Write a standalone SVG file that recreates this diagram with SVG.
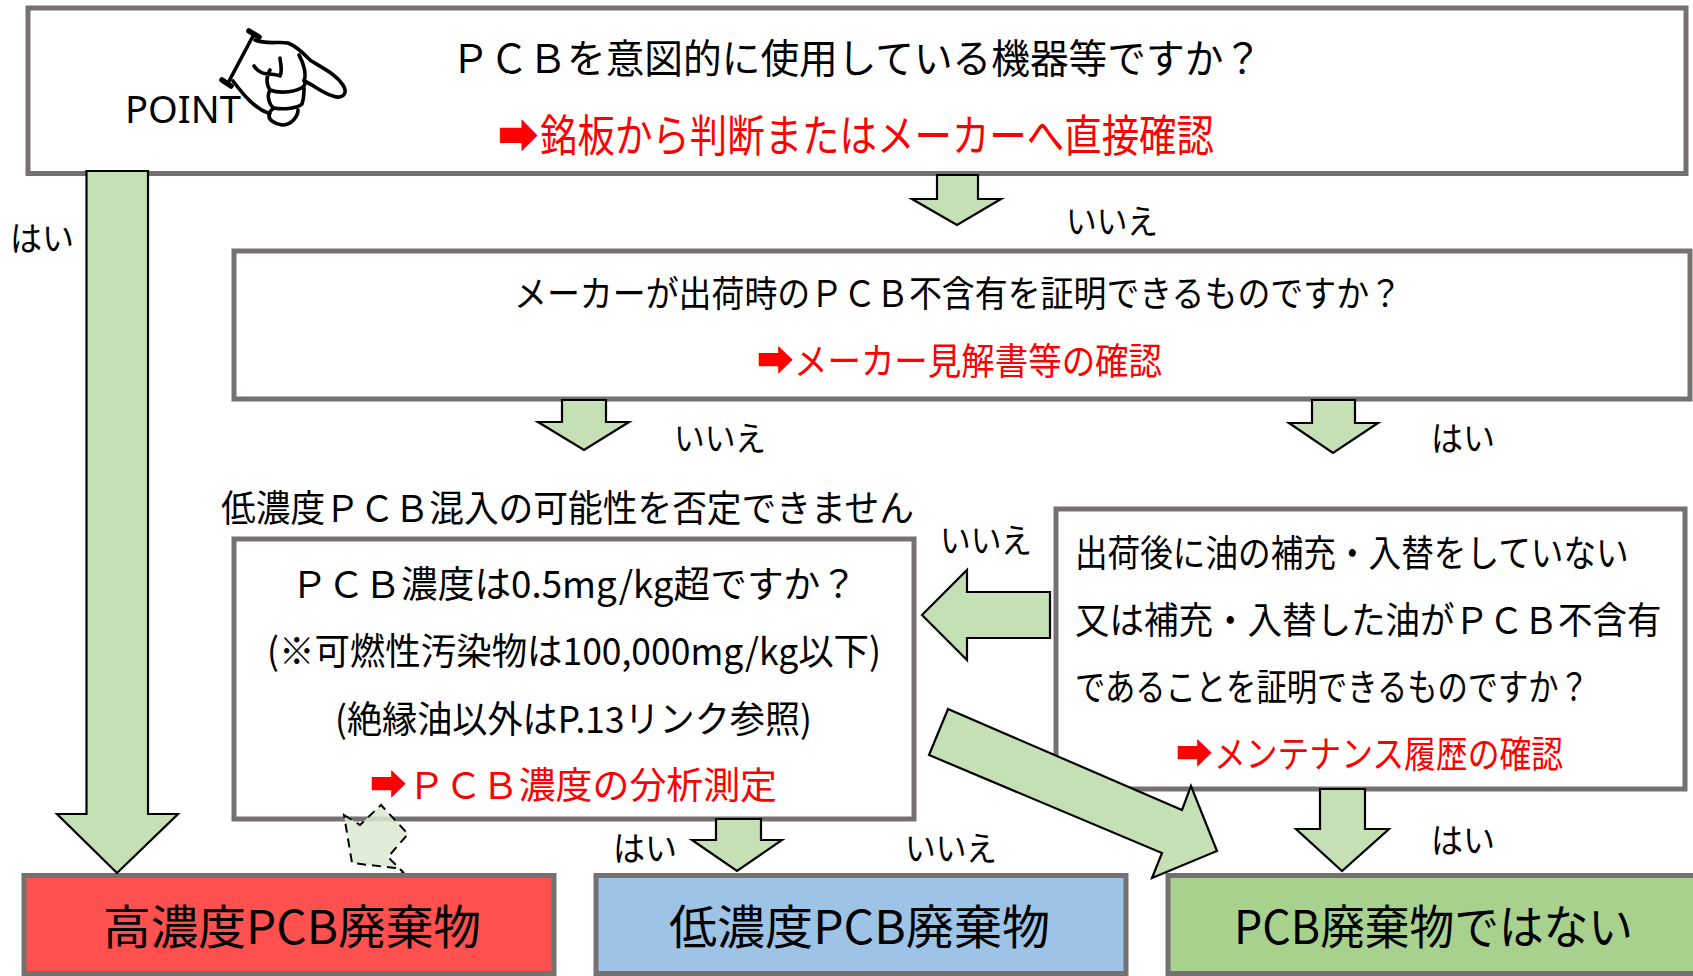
<svg xmlns="http://www.w3.org/2000/svg" width="1693" height="976" viewBox="0 0 1693 976">
<style>
.box{fill:#fff;stroke:#767171;stroke-width:5}
.arr{fill:#c5e0b4;stroke:#000;stroke-width:2.2;stroke-linejoin:miter}
text{font-family:"Noto Sans CJK JP","Noto Sans","DejaVu Sans",sans-serif;fill:#000;font-weight:400}
.r{fill:#f00}
.hand{fill:none;stroke:#000;stroke-width:3.6;stroke-linecap:round;stroke-linejoin:round}
</style>
<rect width="1693" height="976" fill="#fff"/>
<g id="node-q1"><rect class="box" x="28" y="8" width="1658" height="165.500"/>
<text x="451" y="73" font-size="40" textLength="811" lengthAdjust="spacingAndGlyphs">ＰＣＢを意図的に使用している機器等ですか？</text>
<text class="r" x="498" y="152" font-size="46" textLength="41" lengthAdjust="spacingAndGlyphs">➡</text>
<text class="r" x="540" y="152" font-size="44" textLength="674" lengthAdjust="spacingAndGlyphs">銘板から判断またはメーカーへ直接確認</text>
</g>
<g id="node-point">
<path class="hand" d="M253 36L228 83"/>
<path class="hand" d="M249 31L259 37M222 80L231 86" style="stroke-width:5.500"/>
<path class="hand" d="M255 40C268 45 278 41 288 43C298 47 304 54 310 60C322 68 336 74 343 85C349 95 341 99 333 96C322 93 314 85 304 81C307 74 303 62 299 55M233 81C245 97 255 108 268 113M254 66C262 78 272 72 280 76C283 70 280 62 280 58M270 70C266 76 266 84 270 90C280 94 298 92 304 86C306 82 304 80 304 80M270 90C266 96 270 106 274 108C284 110 298 108 302 104C304 98 304 92 304 88M274 108C268 112 268 116 270 113C266 120 276 124 282 125C292 125 298 116 298 110"/>
<text x="125" y="123" font-size="39" textLength="116" lengthAdjust="spacingAndGlyphs" style="font-family:'Noto Sans',sans-serif">POINT</text>
</g>
<g id="node-q2"><rect class="box" x="234" y="251" width="1456" height="148"/>
<text x="514" y="307" font-size="36" textLength="888" lengthAdjust="spacingAndGlyphs">メーカーが出荷時のＰＣＢ不含有を証明できるものですか？</text>
<text class="r" x="757" y="375" font-size="40" textLength="37" lengthAdjust="spacingAndGlyphs">➡</text>
<text class="r" x="794" y="375" font-size="37" textLength="368" lengthAdjust="spacingAndGlyphs">メーカー見解書等の確認</text>
</g>
<g id="node-q3"><rect class="box" x="234" y="539" width="680" height="280"/>
<text x="291" y="598" font-size="37" textLength="566" lengthAdjust="spacingAndGlyphs">ＰＣＢ濃度は0.5mg/kg超ですか？</text>
<text x="267" y="665" font-size="37" textLength="614" lengthAdjust="spacingAndGlyphs">(※可燃性汚染物は100,000mg/kg以下)</text>
<text x="335" y="733" font-size="37" textLength="477" lengthAdjust="spacingAndGlyphs">(絶縁油以外はP.13リンク参照)</text>
<text class="r" x="370" y="799" font-size="40" textLength="37" lengthAdjust="spacingAndGlyphs">➡</text>
<text class="r" x="408" y="799" font-size="37" textLength="369" lengthAdjust="spacingAndGlyphs">ＰＣＢ濃度の分析測定</text>
</g>
<g id="node-q4"><rect class="box" x="1056" y="509" width="629" height="280"/>
<text transform="translate(1075 567) scale(.882 1)" font-size="37">出荷後に油の補充・入替をしていない</text>
<text transform="translate(1075 634) scale(.933 1)" font-size="37">又は補充・入替した油がＰＣＢ不含有</text>
<text transform="translate(1075 701) scale(.819 1)" font-size="37">であることを証明できるものですか？</text>
<text class="r" x="1176" y="768" font-size="40" textLength="37" lengthAdjust="spacingAndGlyphs">➡</text>
<text class="r" x="1214" y="768" font-size="37" textLength="349" lengthAdjust="spacingAndGlyphs">メンテナンス履歴の確認</text>
</g>
<path fill="#dbeacf" fill-opacity=".85" stroke="#000" stroke-width="2" stroke-dasharray="9 6" d="M344 815L360 825L381 805L408 834L388 857L404 873L395 868L352 863Z"/>
<g id="node-high"><rect class="box" x="24" y="875.500" width="530" height="98" style="fill:#ff5050"/>
<text x="103" y="944" font-size="47" textLength="378" lengthAdjust="spacingAndGlyphs">高濃度PCB廃棄物</text></g>
<g id="node-low"><rect class="box" x="596" y="875.500" width="530" height="98" style="fill:#9dc3e6"/>
<text x="669" y="944" font-size="47" textLength="381" lengthAdjust="spacingAndGlyphs">低濃度PCB廃棄物</text></g>
<g id="node-none"><rect class="box" x="1168" y="875.500" width="540" height="98" style="fill:#a9d18e"/>
<text x="1234" y="944" font-size="47" textLength="399" lengthAdjust="spacingAndGlyphs">PCB廃棄物ではない</text></g>
<g id="connectors">
<polygon class="arr" points="86.500,171 148,171 148,814 178,814 117,873 57,814 86.500,814"/>
<polygon class="arr" points="937,175 978,175 978,199 1001,199 957,225 912,199 937,199"/>
<polygon class="arr" points="562,400 606,400 606,422 629,422 584,450 538,422 562,422"/>
<polygon class="arr" points="1312,400 1355,400 1355,423 1378,423 1333,453 1289,423 1312,423"/>
<polygon class="arr" points="1050,592 967,592 967,570 922,615 967,660 967,638 1050,638"/>
<polygon class="arr" points="948,709 1182,810 1191,786 1217,851 1152,878 1162,853 929,755"/>
<polygon class="arr" points="1320,789 1365,789 1365,829 1389,829 1342,871 1296,829 1320,829"/>
<polygon class="arr" points="716,819 761,819 761,840 782,840 737,871 692,840 716,840"/>
</g>
<g id="labels">
<text x="10" y="251" font-size="34" textLength="64" lengthAdjust="spacingAndGlyphs">はい</text>
<text x="1066" y="234" font-size="34" textLength="92" lengthAdjust="spacingAndGlyphs">いいえ</text>
<text x="674" y="451" font-size="34" textLength="92" lengthAdjust="spacingAndGlyphs">いいえ</text>
<text x="1431" y="451" font-size="34" textLength="64" lengthAdjust="spacingAndGlyphs">はい</text>
<text x="221" y="522" font-size="37" textLength="693" lengthAdjust="spacingAndGlyphs">低濃度ＰＣＢ混入の可能性を否定できません</text>
<text x="940" y="553" font-size="34" textLength="92" lengthAdjust="spacingAndGlyphs">いいえ</text>
<text x="613" y="861" font-size="34" textLength="64" lengthAdjust="spacingAndGlyphs">はい</text>
<text x="905" y="861" font-size="34" textLength="92" lengthAdjust="spacingAndGlyphs">いいえ</text>
<text x="1431" y="853" font-size="34" textLength="64" lengthAdjust="spacingAndGlyphs">はい</text>
</g>
</svg>
